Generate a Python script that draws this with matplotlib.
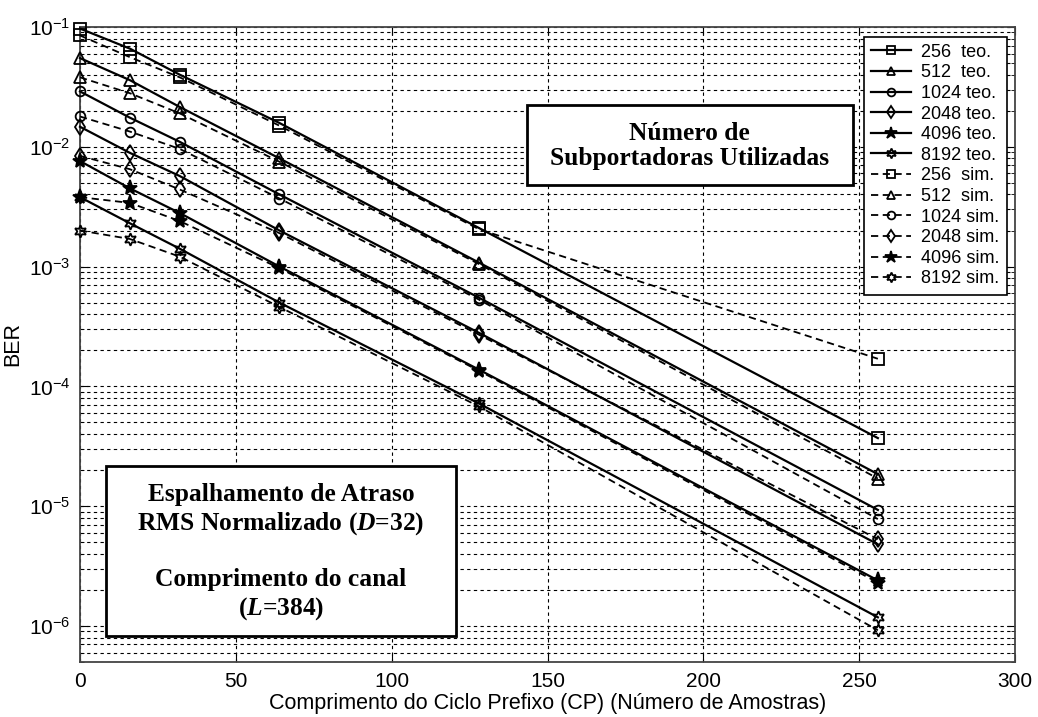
import matplotlib
matplotlib.use('Agg')
import matplotlib.pyplot as plt
from matplotlib.patches import Rectangle

plt.rcParams['font.family'] = ['Liberation Sans', 'DejaVu Sans']
plt.rcParams['mathtext.fontset'] = 'custom'
plt.rcParams['mathtext.rm'] = 'Liberation Sans'
plt.rcParams['mathtext.it'] = 'Liberation Serif:italic:bold'
plt.rcParams['mathtext.default'] = 'regular'

# comprimento do prefixo ciclico (amostras)
cp = [0, 16, 32, 64, 128, 256]

# BER teorica
teo_256 = [0.097, 0.066, 0.040, 0.0158, 2.1e-3, 3.7e-5]
teo_512 = [0.055, 0.036, 0.0215, 0.0080, 1.08e-3, 1.85e-5]
teo_1024 = [0.029, 0.0175, 0.0110, 0.0040, 5.5e-4, 9.3e-6]
teo_2048 = [0.0147, 0.0089, 0.0057, 0.0020, 2.8e-4, 4.8e-6]
teo_4096 = [0.0076, 0.0045, 0.0028, 1.0e-3, 1.38e-4, 2.4e-6]
teo_8192 = [0.0038, 0.0023, 0.00141, 5.0e-4, 7.2e-5, 1.18e-6]

# BER simulada
sim_256 = [0.085, 0.056, 0.038, 0.0150, 2.05e-3, 1.7e-4]
sim_512 = [0.038, 0.028, 0.019, 0.0075, 1.05e-3, 1.7e-5]
sim_1024 = [0.0179, 0.0134, 0.0096, 0.0037, 5.3e-4, 7.8e-6]
sim_2048 = [0.0084, 0.0065, 0.0044, 0.0019, 2.7e-4, 5.3e-6]
sim_4096 = [0.0038, 0.0034, 0.0024, 9.7e-4, 1.35e-4, 2.3e-6]
sim_8192 = [0.0020, 0.0017, 0.00121, 4.6e-4, 6.8e-5, 9.2e-7]

nomes = ['256  teo.', '512  teo.', '1024 teo.', '2048 teo.', '4096 teo.', '8192 teo.',
         '256  sim.', '512  sim.', '1024 sim.', '2048 sim.', '4096 sim.', '8192 sim.']
teo = [teo_256, teo_512, teo_1024, teo_2048, teo_4096, teo_8192]
sim = [sim_256, sim_512, sim_1024, sim_2048, sim_4096, sim_8192]
marcadores = ['s', '^', 'o', 'd', '*', (6, 1, 0)]
tamanhos = [8, 8, 7, 8, 11, 9]

fig = plt.figure(figsize=(10.38, 7.17), dpi=100)
ax = fig.add_axes([80/1038, 55/717, 935/1038, 635/717])

for i in range(6):
    fc = 'k' if marcadores[i] == '*' else 'none'
    ax.plot(cp, teo[i], color='k', lw=1.6, ls='-', marker=marcadores[i], ms=tamanhos[i],
            mfc=fc, mec='k', mew=1.3, label=nomes[i], clip_on=False, zorder=3)
for i in range(6):
    fc = 'k' if marcadores[i] == '*' else 'none'
    ax.plot(cp, sim[i], color='k', lw=1.3, ls=(0, (4, 2.5)), marker=marcadores[i], ms=tamanhos[i],
            mfc=fc, mec='k', mew=1.3, label=nomes[i + 6], clip_on=False, zorder=3)

ax.set_yscale('log')
ax.set_xlim(0, 300)
ax.set_ylim(5e-7, 1e-1)
ax.set_xticks([0, 50, 100, 150, 200, 250, 300])
ax.grid(True, which='major', axis='x', color='k', ls=(0, (3, 3)), lw=0.8)
ax.grid(True, which='both', axis='y', color='k', ls=(0, (3, 3)), lw=0.8)
ax.tick_params(which='both', direction='in', top=True, right=True, labelsize=15)
ax.tick_params(which='major', length=6, pad=7)
ax.tick_params(which='minor', length=3)
for s in ax.spines.values():
    s.set_color('#444444')
    s.set_linewidth(1.3)

ax.set_xlabel('Comprimento do Ciclo Prefixo (CP) (Número de Amostras)', fontsize=15.5, labelpad=2)
ax.set_ylabel('BER', fontsize=15.5, labelpad=4)

leg = ax.legend(loc='upper right', bbox_to_anchor=(0.991, 0.985), fontsize=13,
                handlelength=2.2, handletextpad=0.55, labelspacing=0.2,
                borderpad=0.4, borderaxespad=0, markerscale=0.8,
                fancybox=False, edgecolor='k', framealpha=1)
leg.get_frame().set_linewidth(1.2)
leg.set_zorder(10)

# caixas de texto
caixa1 = Rectangle((0.478, 0.751), 0.349, 0.126, transform=ax.transAxes,
                   facecolor='white', edgecolor='k', lw=2, zorder=8)
ax.add_patch(caixa1)
ax.text(0.652, 0.812, 'Número de\nSubportadoras Utilizadas', transform=ax.transAxes,
        ha='center', va='center', fontsize=18.4, fontweight='bold', family='Liberation Serif',
        linespacing=1.12, zorder=9)

caixa2 = Rectangle((0.028, 0.041), 0.374, 0.268, transform=ax.transAxes,
                   facecolor='white', edgecolor='k', lw=2, zorder=8)
ax.add_patch(caixa2)
ax.text(0.215, 0.172,
        'Espalhamento de Atraso\nRMS Normalizado ($\\mathit{D}$=32)\n\nComprimento do canal\n($\\mathit{L}$=384)',
        transform=ax.transAxes, ha='center', va='center', fontsize=18.4, fontweight='bold',
        family='Liberation Serif', linespacing=1.22, zorder=9)

fig.savefig('out.png', dpi=100)
